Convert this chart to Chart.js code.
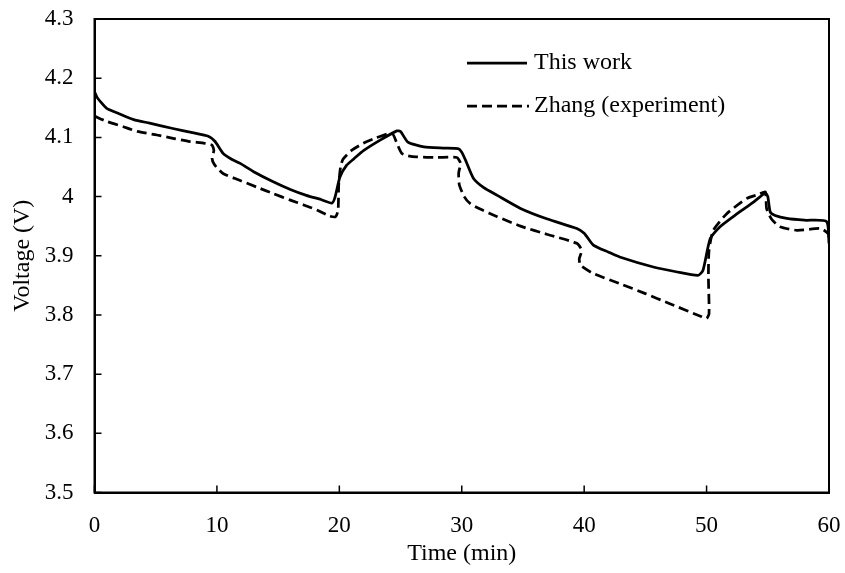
<!DOCTYPE html>
<html>
<head>
<meta charset="utf-8">
<script src="https://cdn.jsdelivr.net/npm/chart.js@4/dist/chart.umd.min.js"></script>
<style>
  html, body { margin: 0; padding: 0; background: #fff; }
  #wrap { width: 845px; height: 573px; }
</style>
</head>
<body>
<div id="wrap"><canvas id="c" width="845" height="573"></canvas></div>
<script>
// Model output: cell voltage over a 60-minute cycle
const modelTime = [0, 0.2, 0.5, 1.0, 2.0, 3.2, 4.5, 6.4, 8.0, 9.3, 9.85, 10.5, 11.2, 11.9, 13.0, 14.6, 16.0, 17.3, 18.5, 19.4,
  19.65, 20.05, 20.6, 21.2, 22.0, 23.3, 24.7, 25.0, 25.6, 26.9, 28.5, 29.7, 30.0, 30.3, 30.95, 31.8, 32.9, 34.8, 37.0, 39.4,
  40.0, 40.75, 42.0, 42.9, 45.65, 47.5, 49.3, 49.7, 50.3, 51.1, 52.5, 53.8, 54.8, 55.0, 55.2, 55.6, 56.55, 58.0, 59.8, 60.0];
const modelVoltage = [4.177, 4.168, 4.160, 4.149, 4.140, 4.130, 4.124, 4.115, 4.108, 4.102, 4.093, 4.073, 4.063, 4.056, 4.042, 4.025, 4.012, 4.002, 3.995, 3.989,
  3.999, 4.033, 4.053, 4.064, 4.078, 4.095, 4.111, 4.110, 4.092, 4.084, 4.082, 4.081, 4.075, 4.062, 4.031, 4.015, 4.002, 3.980, 3.962, 3.946,
  3.938, 3.918, 3.906, 3.898, 3.881, 3.873, 3.867, 3.875, 3.929, 3.949, 3.971, 3.990, 4.006, 4.000, 3.974, 3.968, 3.963, 3.960, 3.958, 3.921];

// Measured voltage (Zhang)
const expTime = [0, 1.0, 2.35, 3.5, 5.1, 6.5, 7.8, 9.0, 9.6, 9.75, 9.6, 9.8, 10.5, 11.8, 13.25, 14.6, 16.0, 17.2, 18.2, 19.2,
  19.7, 19.9, 19.95, 20.1, 20.3, 21.0, 21.96, 23.0, 24.3, 24.7, 25.1, 25.6, 26.3, 28.0, 29.6, 29.9, 29.75, 29.8, 30.2, 30.7,
  31.6, 32.9, 34.8, 37.0, 39.4, 39.8, 39.6, 39.7, 40.75, 42.9, 45.0, 47.0, 49.6, 50.0, 50.2, 50.15, 50.2, 50.55, 51.65, 53.3,
  54.3, 54.8, 54.9, 55.3, 56.0, 57.4, 59.3, 59.95, 60.0];
const expVoltage = [4.136, 4.127, 4.118, 4.110, 4.104, 4.098, 4.093, 4.090, 4.087, 4.078, 4.065, 4.054, 4.039, 4.028, 4.016, 4.005, 3.994, 3.985, 3.977, 3.967,
  3.966, 3.977, 4.020, 4.050, 4.063, 4.078, 4.090, 4.099, 4.107, 4.090, 4.073, 4.069, 4.067, 4.066, 4.066, 4.056, 4.040, 4.020, 4.000, 3.988,
  3.978, 3.966, 3.950, 3.936, 3.921, 3.909, 3.895, 3.884, 3.870, 3.853, 3.836, 3.819, 3.797, 3.794, 3.802, 3.864, 3.909, 3.943, 3.971, 3.997,
  4.004, 4.008, 3.980, 3.962, 3.949, 3.943, 3.946, 3.937, 3.925];

const seriesNames = ['This work', 'Zhang (experiment)'];
const xTicks = [0, 10, 20, 30, 40, 50, 60];
const yTicks = [3.5, 3.6, 3.7, 3.8, 3.9, 4.0, 4.1, 4.2, 4.3];

const FONT = 'Liberation Serif, Times New Roman, serif';

function pairs(xs, ys) { return xs.map((x, i) => ({ x: x, y: ys[i] })); }

// Frame around the plot, inward tick marks and the in-plot legend
const framePlugin = {
  id: 'frame',
  afterDraw(chart) {
    const { ctx, chartArea: a, scales } = chart;
    ctx.save();
    ctx.strokeStyle = '#000';
    ctx.lineWidth = 2;
    ctx.setLineDash([]);
    ctx.strokeRect(a.left, a.top, a.right - a.left, a.bottom - a.top);
    ctx.lineWidth = 1.5;
    ctx.beginPath();
    xTicks.forEach(v => {
      const px = scales.x.getPixelForValue(v);
      ctx.moveTo(px, a.bottom);
      ctx.lineTo(px, a.bottom - 7);
    });
    yTicks.forEach(v => {
      const py = scales.y.getPixelForValue(v);
      ctx.moveTo(a.left, py);
      ctx.lineTo(a.left + 7, py);
    });
    ctx.stroke();

    // legend
    const lx0 = 467, lx1 = 529, tx = 534;
    const rows = [63, 106];
    chart.data.datasets.forEach((ds, i) => {
      const y = rows[i];
      ctx.beginPath();
      ctx.lineWidth = ds.borderWidth;
      ctx.setLineDash(ds.borderDash || []);
      ctx.moveTo(lx0, y);
      ctx.lineTo(ds.borderDash ? lx1 : lx1 - 2, y);
      ctx.stroke();
      ctx.setLineDash([]);
      ctx.fillStyle = '#000';
      ctx.font = '24px ' + FONT;
      ctx.textBaseline = 'middle';
      ctx.textAlign = 'left';
      ctx.fillText(ds.label, tx, y);
    });
    ctx.restore();
  }
};

function noOverhang(s) {
  s.paddingLeft = 0; s.paddingRight = 0; s.paddingTop = 0; s.paddingBottom = 0;
}

new Chart(document.getElementById('c'), {
  type: 'scatter',
  data: {
    datasets: [
      {
        label: seriesNames[0],
        data: pairs(modelTime, modelVoltage),
        showLine: true,
        borderColor: '#000',
        borderWidth: 2.75,
        pointRadius: 0,
        tension: 0.2,
        fill: false
      },
      {
        label: seriesNames[1],
        data: pairs(expTime, expVoltage),
        showLine: true,
        borderColor: '#000',
        borderWidth: 2.75,
        borderDash: [10, 5],
        pointRadius: 0,
        tension: 0.2,
        fill: false
      }
    ]
  },
  options: {
    responsive: false,
    animation: false,
    layout: { padding: { left: 0, right: 16, top: 19, bottom: 0 } },
    plugins: { legend: { display: false }, tooltip: { enabled: false } },
    scales: {
      x: {
        type: 'linear',
        min: 0, max: 60,
        afterBuildTicks(s) { s.ticks = xTicks.map(v => ({ value: v })); },
        afterFit(s) { s.height = 80.5; noOverhang(s); },
        grid: { display: false, drawTicks: false },
        border: { display: true, color: '#000', width: 2 },
        ticks: { color: '#000', padding: 20, font: { family: FONT, size: 23 } },
        title: { display: true, text: 'Time (min)', color: '#000', font: { family: FONT, size: 24 }, padding: { top: 0, bottom: 5 } }
      },
      y: {
        type: 'linear',
        min: 3.5, max: 4.3,
        afterBuildTicks(s) { s.ticks = yTicks.map(v => ({ value: v })); },
        afterFit(s) { s.width = 94.5; noOverhang(s); },
        grid: { display: false, drawTicks: false },
        border: { display: true, color: '#000', width: 2 },
        ticks: {
          color: '#000', padding: 21, font: { family: FONT, size: 23 },
          callback: v => String(Math.round(v * 10) / 10)
        },
        title: { display: true, text: 'Voltage (V)', color: '#000', font: { family: FONT, size: 24 }, padding: { top: 8, bottom: 0 } }
      }
    }
  },
  plugins: [framePlugin]
});
</script>
</body>
</html>
